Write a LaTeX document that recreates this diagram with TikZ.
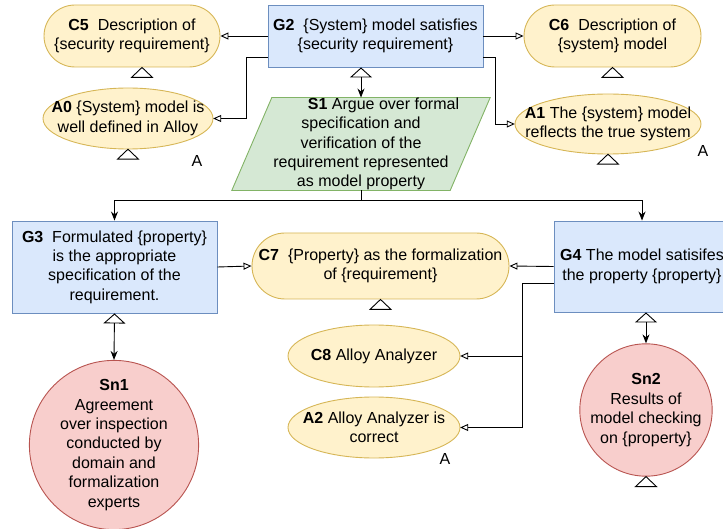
\documentclass[tikz,border=0pt]{standalone}
\usepackage{fontspec}
\setmainfont{Liberation Sans}
\usetikzlibrary{arrows.meta,shapes.geometric,backgrounds}
\definecolor{bfill}{HTML}{DAE8FC}
\definecolor{bdraw}{HTML}{6C8EBF}
\definecolor{yfill}{HTML}{FFF2CC}
\definecolor{ydraw}{HTML}{D6B656}
\definecolor{gfill}{HTML}{D5E8D4}
\definecolor{gdraw}{HTML}{82B366}
\definecolor{rfill}{HTML}{F8CECC}
\definecolor{rdraw}{HTML}{B85450}
\newcommand{\undevtri}[1]{\draw[undev] (#1) -- ++(-10.5,10) -- ++(21,0) -- cycle;}
\newcommand{\ellbg}[3]{\begin{scope}[on background layer]\draw[assumshape] (#1.center) ellipse [x radius=#2pt, y radius=#3pt];\end{scope}}
\begin{document}
\begin{tikzpicture}[x=1pt,y=-1pt,
  every node/.style={font=\fontsize{16}{19.4}\selectfont, align=center, inner sep=0pt},
  goal/.style={draw=bdraw, fill=bfill, line width=0.9pt, rectangle},
  ctxbox/.style={draw=ydraw, fill=yfill, line width=0.9pt, rectangle, rounded corners=31pt},
  assum/.style={rectangle},
  assumshape/.style={draw=ydraw, fill=yfill, line width=0.9pt},
  soln/.style={draw=rdraw, fill=rfill, line width=0.9pt, circle},
  strat/.style={draw=gdraw, fill=gfill, line width=0.9pt},
  ctxarrow/.style={draw=black, line width=0.9pt, -{Triangle[open,length=8pt,width=7pt]}},
  solvedby/.style={draw=black, line width=0.9pt, {Triangle[open,length=10pt,width=22pt]}-{Stealth[length=9pt,width=7pt]}},
  supp/.style={draw=black, line width=0.9pt, -{Stealth[length=9pt,width=7pt]}},
  undev/.style={draw=black, fill=white, line width=0.9pt},
  tag/.style={}]
\useasboundingbox (0,0) rectangle (723,529);
\clip (0,0) rectangle (723,529);

% top row
\node[ctxbox, minimum width=176pt, minimum height=62pt] (C5) at (132,36) {\textbf{C5}\ \ Description of\\\{security requirement\}};
\node[goal, minimum width=215pt, minimum height=62pt] (G2) at (375.5,36) {\textbf{G2}\ \ \{System\} model satisfies\\\{security requirement\}};
\node[ctxbox, minimum width=177pt, minimum height=62pt] (C6) at (612.5,36) {\textbf{C6}\ \ Description of\\\{system\} model};

\node[assum, minimum width=170pt, minimum height=61pt] (A0) at (128,118.5) {\textbf{A0} \{System\} model is\\well defined in Alloy};
\ellbg{A0}{85}{30.5}
\node[assum, minimum width=186pt, minimum height=60pt] (A1) at (608,124) {\textbf{A1} The \{system\} model\\reflects the true system};
\ellbg{A1}{93}{30}

% strategy
\node[minimum width=218pt, minimum height=92pt] (S1) at (361,144) {\hspace*{45pt}\textbf{S1} Argue over formal\\specification and\\verification of the\\requirement represented\\as model property};
\begin{scope}[on background layer]
\draw[strat] ([xshift=20pt]S1.north west) -- ([xshift=20pt]S1.north east) -- ([xshift=-20pt]S1.south east) -- ([xshift=-20pt]S1.south west) -- cycle;
\end{scope}

% middle row
\node[goal, minimum width=205pt, minimum height=92pt] (G3) at (114.5,267) {\textbf{G3}\ \ Formulated \{property\}\\is the appropriate\\specification of the\\requirement.};
\node[ctxbox, minimum width=257pt, minimum height=66pt, rounded corners=33pt] (C7) at (380.5,266) {\textbf{C7}\ \ \{Property\} as the formalization\\of \{requirement\}};
\node[goal, minimum width=176pt, minimum height=91pt] (G4) at (642,266.5) {\textbf{G4} The model satisifes\\the property \{property\}};

\node[assum, minimum width=172pt, minimum height=62pt] (C8) at (374,356) {\textbf{C8} Alloy Analyzer};
\ellbg{C8}{86}{31}
\node[assum, minimum width=172pt, minimum height=61pt] (A2) at (374,427.5) {\textbf{A2} Alloy Analyzer is\\correct};
\ellbg{A2}{86}{30.5}

% solutions
\node[soln, minimum size=166pt] (Sn1) at (114,445) {\textbf{Sn1}\\Agreement\\over inspection\\conducted by\\domain and\\formalization\\experts};
\node[soln, minimum size=126pt] (Sn2) at (646,410) {\textbf{Sn2}\\Results of\\model checking\\on \{property\}};

% assumption tags
\node[tag] (A0tag) at (197,161) {A};
\node[tag] (A1tag) at (703,151) {A};
\node[tag] (A2tag) at (445,459) {A};

% undeveloped markers
\undevtri{[xshift=10pt]C5.south}
\undevtri{C6.south}
\undevtri{A0.south}
\undevtri{A1.south}
\undevtri{C7.south}
\undevtri{Sn2.south}

% connectors
\draw[ctxarrow] (G2.west) -- (C5.east);
\draw[ctxarrow] ([yshift=-21pt]G2.west) -- ++(-21,0) |- (A0.east);
\draw[ctxarrow] (G2.east) -- (C6.west);
\draw[ctxarrow] ([yshift=-21pt]G2.east) -- ++(12,0) |- (A1.west);
\draw[solvedby] (G2.south -| S1.north) -- (S1.north);
\draw[supp] (S1.south) -- ++(0,10) -| (G3.north);
\draw[supp] (S1.south) -- ++(0,10) -| (G4.north);
\draw[ctxarrow] (G3.east) -- (C7.west);
\draw[ctxarrow] (G4.west) -- (C7.east);
\draw[ctxarrow] ([yshift=-17pt]G4.west) -- ++(-31,0) |- (C8.east);
\draw[ctxarrow] ([yshift=-17pt]G4.west) -- ++(-31,0) |- (A2.east);
\draw[solvedby] (G3.south) -- (Sn1.north);
\draw[solvedby] (G4.south -| Sn2.north) -- (Sn2.north);
\end{tikzpicture}
\end{document}
